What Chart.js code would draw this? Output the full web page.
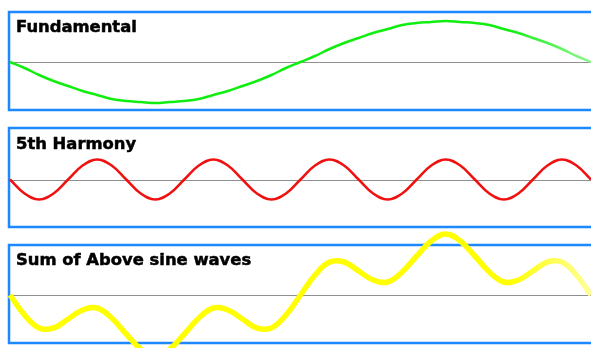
<!DOCTYPE html>
<html>
<head>
<meta charset="utf-8">
<script src="https://cdn.jsdelivr.net/npm/chart.js@4"></script>
<style>
  html, body { margin: 0; padding: 0; background: #fff; overflow: hidden; }
  #wrap { position: relative; width: 591px; height: 348px; }
  canvas { position: absolute; left: 0; top: 0; }
  .ttl { position: absolute; font-family: "DejaVu Sans", Verdana, sans-serif; font-weight: bold; font-size: 16.4px; line-height: 16px; color: #000; white-space: nowrap; -webkit-text-stroke: 0.5px #000; }
</style>
</head>
<body>
<div id="wrap">
  <canvas id="c" width="591" height="348"></canvas>
  <div class="ttl" style="left:16px; top:19px;">Fundamental</div>
  <div class="ttl" style="left:16px; top:136px;">5th Harmony</div>
  <div class="ttl" style="left:16px; top:252px;">Sum of Above sine waves</div>
</div>
<script>
// sample positions (41 samples across the visible span)
const sampleIndex = [0,1,2,3,4,5,6,7,8,9,10,11,12,13,14,15,16,17,18,19,20,21,22,23,24,25,26,27,28,29,30,31,32,33,34,35,36,37,38,39,40];

// Fundamental wave values (px-ish units)
const fundamental = [0,-6,-13,-19,-24,-29,-33,-37,-39,-40,-41,-40,-39,-37,-33,-29,-24,-19,-13,-6,
                     0,6,13,19,24,29,33,37,39,40,41,40,39,37,33,29,24,19,13,6,0];

// 5th harmonic values
const harmonic5 = [0,-14,-20,-14,0,14,20,14,
                   0,-14,-20,-14,0,14,20,14,
                   0,-14,-20,-14,0,14,20,14,
                   0,-14,-20,-14,0,14,20,14,
                   0,-14,-20,-14,0,14,20,14,0];

// Sum of the above
const sumWave = [0,-20,-33,-33,-24,-15,-13,-23,-39,-54,-61,-54,-39,-23,-13,-15,-24,-33,-33,-20,
                 0,20,33,33,24,15,13,23,39,54,61,54,39,23,13,15,24,33,33,20,0];

const titles = ["Fundamental", "5th Harmony", "Sum of Above sine waves"];

const toPts = (arr) => arr.map((v, i) => ({ x: sampleIndex[i], y: v }));

function fadeColor(solid, light) {
  return function (ctx) {
    const chart = ctx.chart;
    const area = chart.chartArea;
    if (!area) return solid;
    const g = chart.ctx.createLinearGradient(area.left, 0, area.right, 0);
    g.addColorStop(0, solid);
    g.addColorStop(0.86, solid);
    g.addColorStop(1, light);
    return g;
  };
}

// panel frames (layout only)
const panels = [
  { top: 12, bottom: 110, axis: 'y1' },
  { top: 128, bottom: 227, axis: 'y2' },
  { top: 245, bottom: 343, axis: 'y3' }
];

const framePlugin = {
  id: 'frames',
  beforeDatasetsDraw(chart) {
    const c = chart.ctx;
    const xs = chart.scales.x;
    c.save();
    panels.forEach(p => {
      c.strokeStyle = '#1e88ff';
      c.lineWidth = 2.5;
      c.beginPath();
      c.moveTo(chart.width + 5, p.top);
      c.lineTo(9, p.top);
      c.lineTo(9, p.bottom);
      c.lineTo(chart.width + 5, p.bottom);
      c.stroke();
      const y0 = Math.round(chart.scales[p.axis].getPixelForValue(0)) + 0.5;
      c.strokeStyle = '#8f8f8f';
      c.lineWidth = 1;
      c.beginPath();
      c.moveTo(xs.getPixelForValue(sampleIndex[0]), y0);
      c.lineTo(chart.width, y0);
      c.stroke();
    });
    c.restore();
  }
};

new Chart(document.getElementById('c'), {
  type: 'line',
  data: {
    datasets: [
      { label: titles[0], data: toPts(fundamental), yAxisID: 'y1',
        borderColor: fadeColor('#10ee10', '#90f890'), borderWidth: 2.5, tension: 0.4, pointRadius: 0, clip: false },
      { label: titles[1], data: toPts(harmonic5), yAxisID: 'y2',
        borderColor: '#f01010', borderWidth: 2.5, tension: 0.4, pointRadius: 0, clip: false },
      { label: titles[2], data: toPts(sumWave), yAxisID: 'y3',
        borderColor: fadeColor('#ffff00', '#ffff99'), borderWidth: 5.5, tension: 0.4, pointRadius: 0, clip: false }
    ]
  },
  options: {
    responsive: false,
    devicePixelRatio: 1,
    animation: false,
    layout: { padding: 0 },
    plugins: { legend: { display: false }, tooltip: { enabled: false }, title: { display: false } },
    scales: {
      x: { type: 'linear', display: false, min: -0.6885, max: 40 },
      y1: { type: 'linear', display: false, min: -286, max: 62 },
      y2: { type: 'linear', display: false, min: -168.5, max: 179.5 },
      y3: { type: 'linear', display: false, min: -53, max: 295 }
    }
  },
  plugins: [framePlugin]
});
</script>
</body>
</html>
